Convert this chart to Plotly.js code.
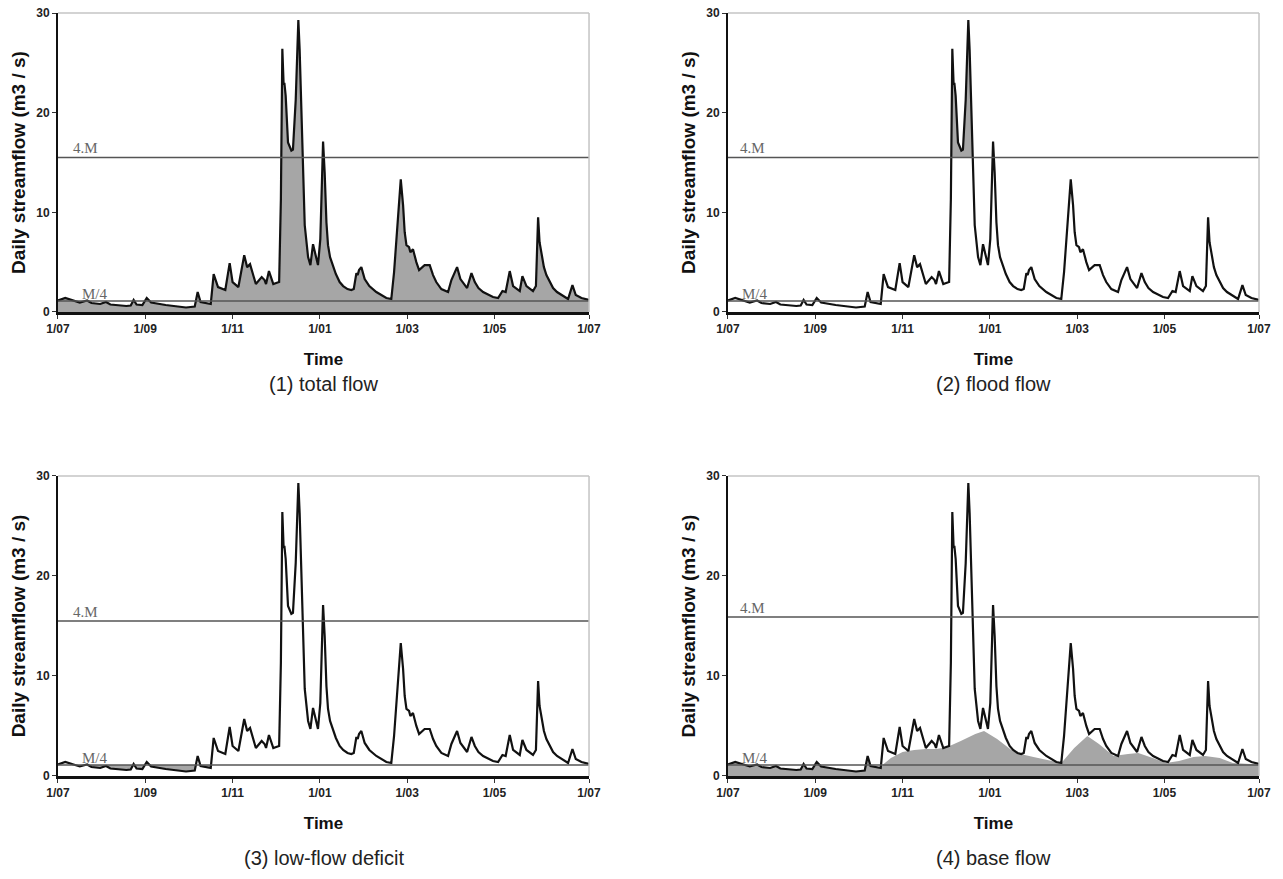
<!DOCTYPE html>
<html>
<head>
<meta charset="utf-8">
<script src="https://cdn.plot.ly/plotly-3.0.1.min.js"></script>
<style>html,body{margin:0;padding:0;background:#fff;}#chart{width:1283px;height:879px;}</style>
</head>
<body>
<div id="chart"></div>
<script>
// ---- data (day offset from 1 July, daily streamflow m3/s) ----
const flowDay = [0,5,15,20,23,29,33,36,47,50,52,54,58,61,64,74,88,94,96,98,105,107,110,115,118,120,124,128,130,132,136,140,142,143,145,148,150,152,153.2,153.8,154.2,155.1,155.6,156.5,158.1,160.4,161.5,163.4,164.3,165.2,166.1,168.4,169.6,171.9,173.5,175.3,176.3,177.1,178.7,180.3,182.2,183.3,184.5,185.6,187,189,191,193.6,196,199,201.6,203.3,205.1,206,206.9,208.5,210.8,214,218.8,225.7,229.1,231,232.6,234,235.6,237.2,238.3,239.5,241.3,242.2,244,246.3,248.2,252,255.5,257.8,260,263.5,268.1,270.4,274.3,276.6,279,281.2,284.2,286.5,289,292.2,299,302.5,305.5,307.7,310.5,312.8,317.4,319.2,322,326.5,328.5,330,331,332.3,334,335.7,338,340.3,343,346,350.6,353.6,355.9,359.8,365];
const flowVal = [1.15,1.4,0.95,1.15,0.9,0.8,1.0,0.75,0.6,0.65,1.2,0.75,0.7,1.4,0.95,0.7,0.45,0.55,2.0,1.0,0.8,3.8,2.5,2.2,4.9,3.0,2.5,5.7,4.5,4.8,2.8,3.5,3.2,2.8,4.1,2.8,2.9,3.0,11.3,21.3,26.4,22.8,23.0,21.7,17.0,16.2,16.3,21.3,26.0,29.3,26.3,14.7,8.7,5.5,4.7,6.8,6.0,5.7,4.7,7.3,17.1,14.0,9.0,6.7,5.5,4.7,3.8,3.0,2.6,2.3,2.2,2.3,3.9,3.7,4.2,4.5,3.3,2.6,2.0,1.4,1.3,4.0,7.3,10.0,13.3,10.7,8.0,6.7,6.5,6.0,6.3,5.0,4.2,4.7,4.7,3.7,3.0,2.3,2.0,3.2,4.5,3.3,2.8,2.4,3.9,3.0,2.4,2.0,1.5,1.4,2.1,2.0,4.1,2.6,2.1,3.6,2.6,2.1,2.6,9.5,7.0,5.7,4.5,3.7,3.0,2.4,2.0,1.7,1.3,2.7,1.7,1.4,1.2];
// base flow (panel 4)
const baseDay = [0,5,15,20,23,29,33,36,47,50,52,54,58,61,64,74,88,94,96,98,105,107,112,120,128,136,143,150,160,170,176,185,193,198,210,222,229.1,238,247,255,260,265,275,282,292,301,310,320,328,338,347,355,365];
const baseVal = [1.15,1.4,0.95,1.15,0.9,0.8,1.0,0.75,0.6,0.65,1.2,0.75,0.7,1.4,0.95,0.7,0.45,0.55,2.0,1.0,0.8,1.2,1.8,2.4,2.6,2.7,2.7,2.85,3.5,4.2,4.5,3.7,2.8,2.3,1.9,1.5,1.3,2.8,4.0,3.2,2.6,2.0,2.2,2.3,1.8,1.3,1.5,1.9,2.0,1.8,1.3,1.2,1.15];
// thresholds
const fourM = [15.5, 15.5, 15.5, 15.9];
const mQuarter = [1.1, 1.1, 1.1, 1.1];
const dayRange = [0, 365];
const tickDays = [0,60,120,180,240,300,365];
const tickLabels = ['1/07','1/09','1/11','1/01','1/03','1/05','1/07'];
const yTicks = [0,10,20,30];
const panelTitles = ['(1) total flow','(2) flood flow','(3) low-flow deficit','(4) base flow'];

const GRAY = 'rgb(166,166,166)';
const LINEC = '#111';
const THR = '#555';

const xs = ['x','x2','x3','x4'];
const ys = ['y','y2','y3','y4'];
const traces = [];

function curveLine(i){
  return {x:flowDay,y:flowVal,xaxis:xs[i],yaxis:ys[i],mode:'lines',line:{color:LINEC,width:2.2},hoverinfo:'skip'};
}
function hline(i,v){
  return {x:dayRange,y:[v,v],xaxis:xs[i],yaxis:ys[i],mode:'lines',line:{color:THR,width:1.3},hoverinfo:'skip'};
}
// Panel 1: total flow
traces.push({x:flowDay,y:flowVal,xaxis:'x',yaxis:'y',mode:'lines',fill:'tozeroy',fillcolor:GRAY,line:{color:LINEC,width:2.2},hoverinfo:'skip'});
// Panel 2: flood flow
traces.push({x:flowDay,y:flowVal,xaxis:'x2',yaxis:'y2',mode:'lines',fill:'tozeroy',fillcolor:GRAY,line:{width:0,color:GRAY},hoverinfo:'skip'});
traces.push({x:dayRange,y:[fourM[1],fourM[1]],xaxis:'x2',yaxis:'y2',mode:'lines',fill:'tozeroy',fillcolor:'#fff',line:{width:0,color:'#fff'},hoverinfo:'skip'});
traces.push(curveLine(1));
// Panel 3: low-flow deficit
traces.push({x:dayRange,y:[mQuarter[2],mQuarter[2]],xaxis:'x3',yaxis:'y3',mode:'lines',fill:'tozeroy',fillcolor:GRAY,line:{width:0,color:GRAY},hoverinfo:'skip'});
traces.push({x:flowDay,y:flowVal,xaxis:'x3',yaxis:'y3',mode:'lines',fill:'tozeroy',fillcolor:'#fff',line:{color:LINEC,width:2.2},hoverinfo:'skip'});
// Panel 4: base flow
traces.push({x:baseDay,y:baseVal,xaxis:'x4',yaxis:'y4',mode:'lines',fill:'tozeroy',fillcolor:GRAY,line:{width:0,color:GRAY},hoverinfo:'skip'});
traces.push(curveLine(3));
for(let i=0;i<4;i++){ traces.push(hline(i,fourM[i])); traces.push(hline(i,mQuarter[i])); }

const xDom = [[0.0452,0.4591],[0.5674,0.9813],[0.0452,0.4591],[0.5674,0.9813]];
const yDom = [[0.6451,0.9852],[0.6451,0.9852],[0.1172,0.4585],[0.1172,0.4585]];
const capY = [0.563,0.563,0.0239,0.0239];
const FONT = 'Liberation Sans, Arial, sans-serif';

const layout = {
  width:1283,height:879,margin:{l:0,r:0,t:0,b:0},
  paper_bgcolor:'#fff',plot_bgcolor:'#fff',showlegend:false,hovermode:false,
  font:{family:FONT,color:'#222'},
  shapes:[],annotations:[]
};
for(let i=0;i<4;i++){
  const xk = i===0?'xaxis':'xaxis'+(i+1);
  const yk = i===0?'yaxis':'yaxis'+(i+1);
  layout[xk] = {domain:xDom[i],anchor:ys[i],range:dayRange,tickmode:'array',tickvals:tickDays,ticktext:tickLabels,
    ticks:'outside',ticklen:4,tickwidth:1,tickcolor:'#333',showline:true,linecolor:'#111',linewidth:3,
    showgrid:false,zeroline:false,tickfont:{family:FONT,size:12,weight:'bold',color:'#222'},
    title:{text:'Time',font:{family:FONT,size:17,weight:'bold',color:'#111'},standoff:18},fixedrange:true};
  layout[yk] = {domain:yDom[i],anchor:xs[i],range:[0,30],tickmode:'array',tickvals:yTicks,
    ticks:'outside',ticklen:4,tickwidth:1,tickcolor:'#333',showline:true,linecolor:'#111',linewidth:2,
    showgrid:false,zeroline:false,tickfont:{family:FONT,size:12,weight:'bold',color:'#222'},
    title:{text:'Daily streamflow (m3 / s)',font:{family:FONT,size:19,weight:'bold',color:'#111'},standoff:6},fixedrange:true};
  // top and right frame lines
  layout.shapes.push({type:'line',xref:xs[i]+' domain',yref:ys[i]+' domain',x0:0,x1:1,y0:1,y1:1,line:{color:'#c4c4c4',width:1.5}});
  layout.shapes.push({type:'line',xref:xs[i]+' domain',yref:ys[i]+' domain',x0:1,x1:1,y0:0,y1:1,line:{color:'#c4c4c4',width:1.5}});
  // threshold labels
  layout.annotations.push({xref:xs[i],yref:ys[i],x:(i%2===0?9:7),y:fourM[i],text:'4.M',showarrow:false,xanchor:'left',yanchor:'bottom',yshift:-1,
    font:{family:'Liberation Serif, Times New Roman, serif',size:15,color:'#666'}});
  layout.annotations.push({xref:xs[i],yref:ys[i],x:(i%2===0?15:8),y:mQuarter[i],text:'M/4',showarrow:false,xanchor:'left',yanchor:'bottom',yshift:-3,
    font:{family:'Liberation Serif, Times New Roman, serif',size:15,color:'#666'}});
  // panel captions
  layout.annotations.push({xref:'paper',yref:'paper',x:(xDom[i][0]+xDom[i][1])/2,y:capY[i],text:panelTitles[i],showarrow:false,
    xanchor:'center',yanchor:'middle',font:{family:FONT,size:20,color:'#222'}});
}
Plotly.newPlot('chart',traces,layout,{staticPlot:true,displayModeBar:false});
</script>
</body>
</html>
